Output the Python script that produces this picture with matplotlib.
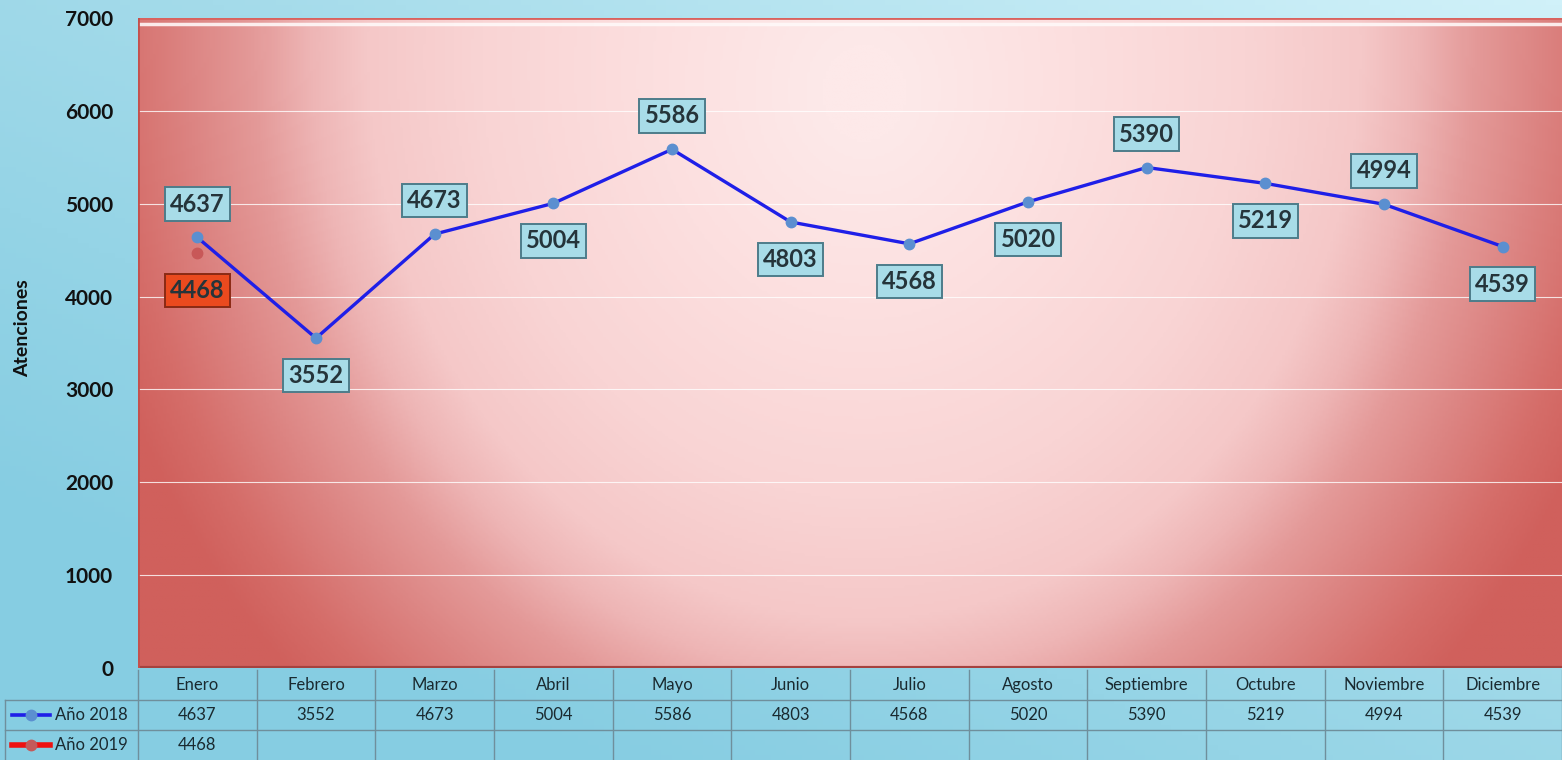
import numpy as np
import matplotlib.pyplot as plt
from matplotlib.colors import LinearSegmentedColormap
from matplotlib.lines import Line2D
import matplotlib.transforms as mtransforms

plt.rcParams['font.family'] = ['Lato', 'DejaVu Sans']

meses = ['Enero', 'Febrero', 'Marzo', 'Abril', 'Mayo', 'Junio', 'Julio',
         'Agosto', 'Septiembre', 'Octubre', 'Noviembre', 'Diciembre']
valores_2018 = [4637, 3552, 4673, 5004, 5586, 4803, 4568, 5020, 5390, 5219, 4994, 4539]
valores_2019 = [4468]
series_nombres = ['Año 2018', 'Año 2019']
y_ticks = [0, 1000, 2000, 3000, 4000, 5000, 6000, 7000]

# placement of data labels (above / below the point)
lado_2018 = ['up', 'down', 'up', 'down', 'up', 'down', 'down', 'down', 'up', 'down', 'up', 'down']
lado_2019 = ['down']

W, H = 1562, 760
fig = plt.figure(figsize=(W / 100, H / 100), dpi=100)

# figure background: light blue gradient
bg = fig.add_axes([0, 0, 1, 1], zorder=-10)
gx, gy = np.meshgrid(np.linspace(0, 1, 300), np.linspace(0, 1, 150))
tb = np.clip(0.55 * gx + 0.6 * gy - 0.2, 0, 1)
cm_bg = LinearSegmentedColormap.from_list('bg', ['#86cde2', '#a4dbea', '#d0f1f9'])
bg.imshow(tb, cmap=cm_bg, extent=[0, 1, 0, 1], origin='lower', aspect='auto')
bg.axis('off')

x0, x1 = 138 / W, 1.0
y0, y1 = (H - 668) / H, (H - 18) / H
ax = fig.add_axes([x0, y0, x1 - x0, y1 - y0])

# plot area: red gradient with a light, cone shaped centre
px, py = np.meshgrid(np.linspace(0, 1, 500), np.linspace(0, 1, 250))
d = np.sqrt(((px - 0.51) / 0.40) ** 2 + ((py - 0.88) / 1.0) ** 2) - 0.08 * py
stops = [(0.0, '#fde9e9'), (0.3, '#fcdfdf'), (0.6, '#f9d4d4'), (0.8, '#f5c8c8'),
         (0.9, '#eeb5b5'), (1.0, '#e49a99'), (1.12, '#dc8482'), (1.25, '#d56d69'),
         (1.35, '#d0605c')]
cm_pa = LinearSegmentedColormap.from_list('pa', [(s / 1.35, c) for s, c in stops])
ax.imshow(d, cmap=cm_pa, extent=[-0.5, 11.5, 0, 7000], origin='lower',
          aspect='auto', zorder=0, vmin=0, vmax=1.35)

ax.set_xlim(-0.5, 11.5)
ax.set_ylim(0, 7000)
ax.set_yticks(y_ticks)
ax.set_yticklabels([str(v) for v in y_ticks], fontsize=15, fontweight='bold', color='#111111')
ax.set_xticks([])
ax.tick_params(axis='y', length=0, pad=18)
for s in ax.spines.values():
    s.set_visible(False)
for v in y_ticks[1:-1]:
    ax.axhline(v, color='#ffffff', lw=0.8, alpha=0.8, zorder=1)
# bevel edges
ax.axhline(7000, color='#d9625e', lw=2, zorder=2)
ax.axhline(6940, color='#fff8f8', lw=2.5, alpha=0.9, zorder=2)
ax.axhline(0, color='#a5423f', lw=3, zorder=2)
ax.axvline(-0.5, color='#c4504c', lw=2, zorder=2)

fig.text(23 / W, (H - 328) / H, 'Atenciones', rotation=90, fontsize=14,
         fontweight='bold', ha='center', va='center', color='#111111')

xs = np.arange(len(meses))
ax.plot(xs, valores_2018, color='#1f1fe8', lw=2.4, zorder=3)
ax.plot(xs, valores_2018, 'o', color='#5b8fd0', ms=7.5, zorder=4)
ax.plot(xs[:len(valores_2019)], valores_2019, 'o', color='#c85858', ms=7.5, zorder=5)

def etiqueta(x, v, lado, cara, borde):
    off = 24 if lado == 'up' else -27
    ax.annotate(str(v), (x, v), xytext=(0, off), textcoords='offset points',
                ha='center', va='center', fontsize=17, fontweight='bold', color='#25343a',
                bbox=dict(boxstyle='square,pad=0.22', fc=cara, ec=borde, lw=1.4), zorder=6)

for x, v, l in zip(xs, valores_2018, lado_2018):
    etiqueta(x, v, l, '#a8dce8', '#4d7c8a')
for x, v, l in zip(xs, valores_2019, lado_2019):
    etiqueta(x, v, l, '#ea4a1e', '#8a2a14')

# data table below the plot
tr = mtransforms.blended_transform_factory(ax.transData, fig.transFigure)
fy = lambda p: (H - p) / H
gcol = '#6f8f9c'
for k in range(len(meses) + 1):
    ax.plot([k - 0.5, k - 0.5], [fy(670), fy(760)], color=gcol, lw=1, transform=tr, clip_on=False)
for p in (700, 730):
    fig.add_artist(Line2D([5 / W, 1], [fy(p), fy(p)], color=gcol, lw=1))
fig.add_artist(Line2D([5 / W, 5 / W], [fy(700), fy(760)], color=gcol, lw=1))

for x, m in zip(xs, meses):
    ax.text(x, fy(685), m, transform=tr, ha='center', va='center', fontsize=12, color='#1a2a30')
for x, v in zip(xs, valores_2018):
    ax.text(x, fy(715), str(v), transform=tr, ha='center', va='center', fontsize=12, color='#1a2a30')
for x, v in zip(xs, valores_2019):
    ax.text(x, fy(745), str(v), transform=tr, ha='center', va='center', fontsize=12, color='#1a2a30')

for nombre, p, lc, mc in zip(series_nombres, (715, 745), ('#1f1fe8', '#ee1111'), ('#5b8fd0', '#c45a5a')):
    fig.add_artist(Line2D([12 / W, 50 / W], [fy(p), fy(p)], color=lc, lw=2.6 if p == 715 else 4))
    fig.add_artist(Line2D([31 / W], [fy(p)], marker='o', color=mc, ms=7.5))
    fig.text(55 / W, fy(p), nombre, ha='left', va='center', fontsize=12, color='#1a2a30')

fig.savefig('out.png', dpi=100)
